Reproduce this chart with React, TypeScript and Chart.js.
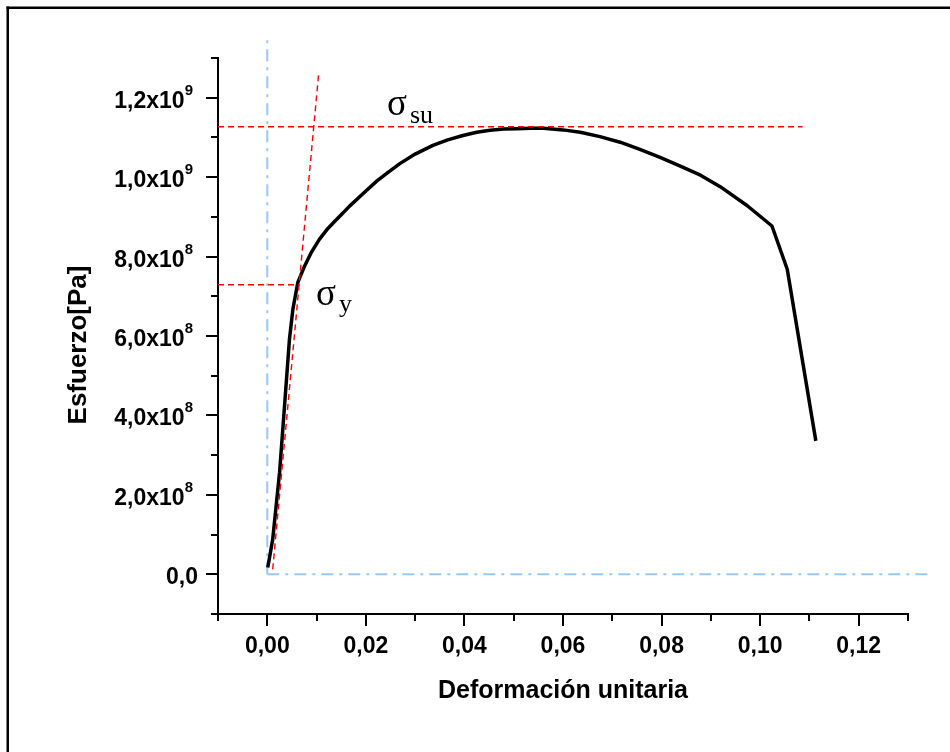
import React, { useEffect, useRef } from "react";
import { Chart, registerables } from "chart.js";

Chart.register(...registerables);

// Stress-strain curve (strain, stress in Pa)
const strain = [0.0001, 0.0011, 0.0025, 0.0035, 0.0045, 0.0052, 0.0062, 0.0076, 0.0090, 0.0106, 0.0121, 0.0137, 0.0152, 0.0167, 0.0194, 0.0222, 0.0245, 0.0269, 0.0300, 0.0336, 0.0366, 0.0397, 0.0425, 0.0452, 0.0480, 0.0506, 0.0535, 0.0560, 0.0600, 0.0635, 0.0675, 0.0716, 0.0756, 0.0797, 0.0838, 0.0879, 0.0919, 0.0974, 0.1024, 0.1055, 0.1113];
const stress = [0.17e8, 0.88e8, 2.57e8, 4.24e8, 5.92e8, 6.68e8, 7.35e8, 7.77e8, 8.12e8, 8.44e8, 8.68e8, 8.89e8, 9.08e8, 9.27e8, 9.58e8, 9.90e8, 10.12e8, 10.34e8, 10.58e8, 10.80e8, 10.94e8, 11.05e8, 11.13e8, 11.18e8, 11.21e8, 11.22e8, 11.23e8, 11.23e8, 11.19e8, 11.13e8, 11.02e8, 10.88e8, 10.70e8, 10.50e8, 10.28e8, 10.05e8, 9.76e8, 9.28e8, 8.77e8, 7.68e8, 3.36e8];

// Construction lines
const elasticLineX = [0.0011, 0.0104];
const elasticLineY = [0.0126e9, 1.257e9];
const sigmaSuX = [-0.01, 0.1086];
const sigmaSuY = [1.127e9, 1.127e9];
const sigmaYX = [-0.01, 0.0066];
const sigmaYY = [7.29e8, 7.29e8];
const refVertX = [0, 0];
const refVertY = [0, 1.353e9];
const refHorX = [0, 0.135];
const refHorY = [0, 0];

// Axes
const xMin = -0.01, xMax = 0.13, yMin = -1e8, yMax = 1.3e9;
const xMajorTicks = [0, 0.02, 0.04, 0.06, 0.08, 0.10, 0.12];
const xTickLabels = ["0,00", "0,02", "0,04", "0,06", "0,08", "0,10", "0,12"];
const xMinorTicks = [-0.01, 0.01, 0.03, 0.05, 0.07, 0.09, 0.11, 0.13];
const yMajorTicks = [0, 2e8, 4e8, 6e8, 8e8, 1.0e9, 1.2e9];
const yTickMantissas = ["0,0", "2,0x10", "4,0x10", "6,0x10", "8,0x10", "1,0x10", "1,2x10"];
const yTickExponents = ["", "8", "8", "8", "8", "9", "9"];
const yMinorTicks = [-1e8, 1e8, 3e8, 5e8, 7e8, 9e8, 1.1e9, 1.3e9];

const xTitle = "Deformación unitaria";
const yTitle = "Esfuerzo[Pa]";

const zip = (xs: number[], ys: number[]) => xs.map((v, i) => ({ x: v, y: ys[i] }));

const decorPlugin = {
  id: "decor",
  afterDraw(chart: any) {
    const { ctx, chartArea: a, scales } = chart;
    const xs = scales.x, ys = scales.y;
    ctx.save();
    // outer frame (top & left visible)
    ctx.fillStyle = "#000";
    ctx.fillRect(6.5, 6.5, 960, 2.5);
    ctx.fillRect(6.5, 6.5, 2.5, 760);

    // ticks
    ctx.strokeStyle = "#000";
    ctx.lineWidth = 2;
    const drawX = (v: number, len: number) => {
      const px = Math.round(xs.getPixelForValue(v));
      ctx.beginPath();
      ctx.moveTo(px, a.bottom);
      ctx.lineTo(px, a.bottom + len);
      ctx.stroke();
    };
    const drawY = (v: number, len: number) => {
      const py = Math.round(ys.getPixelForValue(v));
      ctx.beginPath();
      ctx.moveTo(a.left, py);
      ctx.lineTo(a.left - len, py);
      ctx.stroke();
    };
    xMajorTicks.forEach((v) => drawX(v, 12));
    xMinorTicks.forEach((v) => drawX(v, 7));
    yMajorTicks.forEach((v) => drawY(v, 12));
    yMinorTicks.forEach((v) => drawY(v, 7));

    // x tick labels
    ctx.fillStyle = "#000";
    ctx.font = "bold 23px 'Liberation Sans', Arial, sans-serif";
    ctx.textAlign = "center";
    ctx.textBaseline = "alphabetic";
    xMajorTicks.forEach((v, i) => {
      ctx.fillText(xTickLabels[i], xs.getPixelForValue(v), a.bottom + 39);
    });

    // y tick labels with superscript
    yMajorTicks.forEach((v, i) => {
      const py = ys.getPixelForValue(v);
      const exp = yTickExponents[i];
      ctx.textAlign = "left";
      if (exp) {
        ctx.font = "bold 15px 'Liberation Sans', Arial, sans-serif";
        const ew = ctx.measureText(exp).width;
        const right = a.left - 26;
        ctx.fillText(exp, right - ew + 1, py - 3);
        ctx.font = "bold 23px 'Liberation Sans', Arial, sans-serif";
        ctx.textAlign = "right";
        ctx.fillText(yTickMantissas[i], right - ew + 1, py + 10);
      } else {
        ctx.font = "bold 23px 'Liberation Sans', Arial, sans-serif";
        ctx.textAlign = "right";
        ctx.fillText(yTickMantissas[i], a.left - 20, py + 10);
      }
    });

    // axis titles
    ctx.font = "bold 25px 'Liberation Sans', Arial, sans-serif";
    ctx.textAlign = "center";
    ctx.fillText(xTitle, (a.left + a.right) / 2, 698);
    ctx.save();
    ctx.translate(86, 345);
    ctx.rotate(-Math.PI / 2);
    ctx.font = "bold 26px 'Liberation Sans', Arial, sans-serif";
    ctx.fillText(yTitle, 0, 0);
    ctx.restore();

    // sigma annotations
    ctx.textAlign = "left";
    ctx.font = "37px 'Liberation Serif', 'Times New Roman', serif";
    ctx.fillText("σ", 387, 115);
    ctx.font = "26px 'Liberation Serif', 'Times New Roman', serif";
    ctx.fillText("su", 410, 123);
    ctx.font = "37px 'Liberation Serif', 'Times New Roman', serif";
    ctx.fillText("σ", 316, 305);
    ctx.font = "26px 'Liberation Serif', 'Times New Roman', serif";
    ctx.fillText("y", 339, 312);
    ctx.restore();
  },
};

export default function App() {
  const ref = useRef<HTMLCanvasElement | null>(null);
  useEffect(() => {
    if (!ref.current) return;
    const blue = "#99c8f7";
    const red = "#ff0000";
    const chart = new Chart(ref.current, {
      type: "scatter",
      data: {
        datasets: [
          { data: zip(refVertX, refVertY), showLine: true, borderColor: blue, borderWidth: 2, borderDash: [12, 6, 3, 6], pointRadius: 0, clip: false, order: 5 } as any,
          { data: zip(refHorX, refHorY), showLine: true, borderColor: blue, borderWidth: 2, borderDash: [12, 6, 3, 6], pointRadius: 0, clip: false, order: 5 } as any,
          { data: zip(strain, stress), showLine: true, borderColor: "#000", borderWidth: 3.5, pointRadius: 0, tension: 0, borderJoinStyle: "round", order: 3 } as any,
          { data: zip(elasticLineX, elasticLineY), showLine: true, borderColor: red, borderWidth: 1.4, borderDash: [6, 4], pointRadius: 0, order: 1 } as any,
          { data: zip(sigmaSuX, sigmaSuY), showLine: true, borderColor: red, borderWidth: 1.4, borderDash: [6, 4], pointRadius: 0, order: 1 } as any,
          { data: zip(sigmaYX, sigmaYY), showLine: true, borderColor: red, borderWidth: 1.4, borderDash: [6, 4], pointRadius: 0, order: 1 } as any,
        ],
      },
      options: {
        responsive: false,
        animation: false,
        events: [],
        layout: { padding: { top: 58, right: 42, left: 0, bottom: 0 } },
        plugins: { legend: { display: false }, tooltip: { enabled: false } },
        scales: {
          x: {
            type: "linear",
            min: xMin,
            max: xMax,
            grid: { display: false },
            ticks: { display: false },
            border: { display: true, color: "#000", width: 2 },
            afterFit: (s: any) => { s.height = 138; },
          },
          y: {
            type: "linear",
            min: yMin,
            max: yMax,
            grid: { display: false },
            ticks: { display: false },
            border: { display: true, color: "#000", width: 2 },
            afterFit: (s: any) => { s.width = 218; },
          },
        },
      } as any,
      plugins: [decorPlugin],
    });
    return () => chart.destroy();
  }, []);
  return (
    <canvas
      ref={ref}
      width={950}
      height={752}
      style={{ position: "absolute", left: 0, top: 0, width: 950, height: 752, background: "#fff" }}
    />
  );
}
